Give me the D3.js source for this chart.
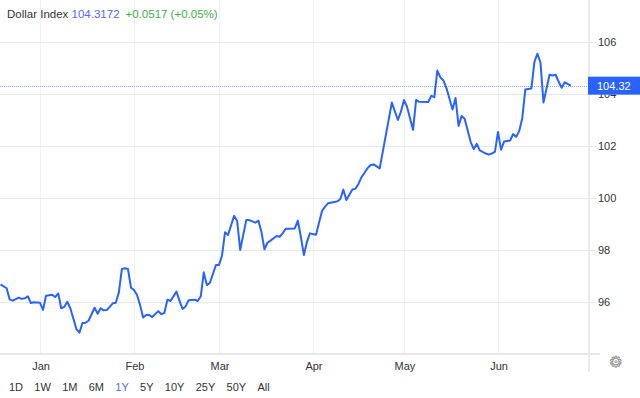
<!DOCTYPE html>
<html><head><meta charset="utf-8">
<script src="https://cdn.jsdelivr.net/npm/d3@7"></script>
<style>
html,body{margin:0;padding:0;background:#fff;}
svg{display:block;font-family:"Liberation Sans",Arial,sans-serif;}
</style></head><body>
<svg id="c" width="640" height="398"></svg>
<script>
// ---------- data ----------
const titleName = "Dollar Index";
const lastLabel = "104.3172";
const changeLabel = "+0.0517 (+0.05%)";
const priceTag = "104.32";
const yTicks = [96, 98, 100, 102, 104, 106];
const rangeButtons = ["1D","1W","1M","6M","1Y","5Y","10Y","25Y","50Y","All"];
const activeRange = "1Y";

const dates = [
"2021-12-19","2021-12-21","2021-12-22","2021-12-23","2021-12-25","2021-12-26","2021-12-27","2021-12-28","2021-12-29","2021-12-30",
"2022-01-01","2022-01-02","2022-01-03","2022-01-05","2022-01-06","2022-01-07","2022-01-08","2022-01-09","2022-01-10","2022-01-11",
"2022-01-13","2022-01-14","2022-01-15","2022-01-16","2022-01-17","2022-01-19","2022-01-20","2022-01-21","2022-01-22","2022-01-23",
"2022-01-25","2022-01-26","2022-01-27","2022-01-28","2022-01-29","2022-01-30","2022-01-31","2022-02-01","2022-02-02","2022-02-03",
"2022-02-04","2022-02-05","2022-02-06","2022-02-07","2022-02-09","2022-02-10","2022-02-11","2022-02-12","2022-02-13","2022-02-15",
"2022-02-16","2022-02-17","2022-02-18","2022-02-19","2022-02-21","2022-02-22","2022-02-23","2022-02-24","2022-02-25","2022-02-26",
"2022-02-28","2022-03-01","2022-03-02","2022-03-03","2022-03-04","2022-03-06","2022-03-07","2022-03-08","2022-03-10","2022-03-11",
"2022-03-13","2022-03-14","2022-03-15","2022-03-16","2022-03-17","2022-03-18","2022-03-20","2022-03-21","2022-03-22","2022-03-23",
"2022-03-24","2022-03-26","2022-03-27","2022-03-28","2022-03-29","2022-03-30","2022-03-31","2022-04-02","2022-04-03","2022-04-04",
"2022-04-05","2022-04-06","2022-04-08","2022-04-09","2022-04-10","2022-04-11","2022-04-12","2022-04-14","2022-04-15","2022-04-16",
"2022-04-17","2022-04-18","2022-04-19","2022-04-20","2022-04-21","2022-04-23","2022-04-27","2022-04-29","2022-04-30","2022-05-01",
"2022-05-02","2022-05-04","2022-05-05","2022-05-06","2022-05-09","2022-05-10","2022-05-11","2022-05-12","2022-05-13","2022-05-14",
"2022-05-15","2022-05-17","2022-05-18","2022-05-19","2022-05-20","2022-05-21","2022-05-23","2022-05-24","2022-05-25","2022-05-26",
"2022-05-28","2022-05-29","2022-05-30","2022-05-31","2022-06-01","2022-06-02","2022-06-03","2022-06-05","2022-06-06","2022-06-07",
"2022-06-08","2022-06-09","2022-06-10","2022-06-12","2022-06-13","2022-06-14","2022-06-15","2022-06-16","2022-06-18","2022-06-19",
"2022-06-20","2022-06-21","2022-06-22","2022-06-23","2022-06-25"
];
const values = [
96.68,96.53,96.10,96.05,96.17,96.12,96.14,96.22,95.96,95.99,
95.97,95.70,96.24,96.28,96.19,96.33,95.76,95.81,96.01,95.76,
94.96,94.82,95.19,95.20,95.28,95.78,95.55,95.76,95.68,95.69,
95.95,95.97,96.37,97.27,97.30,97.27,96.55,96.46,96.27,95.88,
95.40,95.50,95.50,95.42,95.65,95.53,95.58,96.09,96.04,96.40,
96.04,95.73,95.83,96.07,96.09,96.04,96.22,97.14,96.65,96.73,
97.42,97.42,97.78,98.68,98.58,99.32,99.12,98.00,99.15,99.15,
99.05,99.13,98.70,98.03,98.28,98.36,98.54,98.51,98.64,98.82,
98.82,98.83,99.13,98.51,97.81,98.31,98.64,98.59,99.05,99.51,
99.67,99.80,99.85,99.87,99.95,100.33,99.92,100.33,100.36,100.54,
100.80,100.97,101.15,101.27,101.29,101.14,103.67,103.00,103.32,103.77,
103.51,102.62,103.77,103.70,103.69,103.93,103.88,104.90,104.64,104.52,
104.23,103.40,103.85,102.77,103.15,103.05,102.15,101.88,102.08,101.83,
101.71,101.67,101.71,101.78,102.54,101.86,102.17,102.21,102.46,102.35,
102.58,103.07,104.17,104.21,105.23,105.55,105.21,103.67,104.74,104.71,
104.74,104.47,104.24,104.45,104.32
];

// ---------- layout ----------
const W = 640, H = 398;
const plotRight = 588, plotBottom = 354;
const parse = d3.utcParse("%Y-%m-%d");
const data = dates.map((d, i) => ({date: parse(d), value: values[i]}));

const x = d3.scaleUtc()
  .domain([parse("2022-01-01"), parse("2022-06-01")])
  .range([40, 498]);
const y = d3.scaleLinear().domain([96, 106]).range([302, 42]);

const svg = d3.select("#c");

// vertical gridlines (months)
const months = d3.utcMonths(x.invert(0), x.invert(plotRight));
svg.append("g").selectAll("line").data(months).join("line")
  .attr("x1", d => Math.round(x(d)) + 0.5).attr("x2", d => Math.round(x(d)) + 0.5)
  .attr("y1", 0).attr("y2", plotBottom)
  .attr("stroke", "#eef1f6").attr("stroke-width", 1);

// horizontal gridlines
svg.append("g").selectAll("line").data(yTicks).join("line")
  .attr("x1", 0).attr("x2", plotRight + 8)
  .attr("y1", d => Math.round(y(d)) + 0.5).attr("y2", d => Math.round(y(d)) + 0.5)
  .attr("stroke", "#e9e9e9").attr("stroke-width", 1);

// bottom axis line
svg.append("line")
  .attr("x1", 0).attr("x2", plotRight + 12)
  .attr("y1", plotBottom).attr("y2", plotBottom)
  .attr("stroke", "#e8e8e8").attr("stroke-width", 2);

// right axis line
svg.append("line")
  .attr("x1", plotRight + 1).attr("x2", plotRight + 1)
  .attr("y1", 0).attr("y2", 372)
  .attr("stroke", "#ececec").attr("stroke-width", 2);

// clip
svg.append("clipPath").attr("id", "clip")
  .append("rect").attr("x", 0).attr("y", 0).attr("width", plotRight).attr("height", plotBottom);

const last = data[data.length - 1];

// price line (dotted)
svg.append("line")
  .attr("x1", 0).attr("x2", plotRight)
  .attr("y1", Math.round(y(last.value)) + 0.5).attr("y2", Math.round(y(last.value)) + 0.5)
  .attr("stroke", "#93a8ff").attr("stroke-width", 1).attr("stroke-dasharray", "1,1");

// series line
const line = d3.line().x(d => x(d.date)).y(d => y(d.value));
svg.append("path").datum(data)
  .attr("clip-path", "url(#clip)")
  .attr("d", line)
  .attr("fill", "none")
  .attr("stroke", "#2962ff")
  .attr("stroke-width", 2)
  .attr("stroke-linejoin", "round");

// y tick labels (104 is partly hidden behind the price tag, as in the reference)
svg.append("g").selectAll("text").data(yTicks).join("text")
  .attr("x", 598).attr("y", d => y(d))
  .attr("dy", "0.35em")
  .attr("font-size", 11).attr("fill", "#333")
  .text(d => d);

// price tag
const py = y(last.value);
svg.append("rect").attr("x", plotRight).attr("y", py - 9).attr("width", W - plotRight).attr("height", 18)
  .attr("fill", "#2962ff");
svg.append("text").attr("x", 597).attr("y", py).attr("dy", "0.36em")
  .attr("font-size", 11).attr("fill", "#fff").text(priceTag);

// month labels
svg.append("g").selectAll("text").data(months).join("text")
  .attr("x", d => x(d) + 1).attr("y", 370)
  .attr("text-anchor", "middle")
  .attr("font-size", 11).attr("fill", "#333")
  .text(d => d3.utcFormat("%b")(d));

// gear icon
svg.append("text").attr("x", 616).attr("y", 367).attr("text-anchor", "middle")
  .attr("font-family", "DejaVu Sans").attr("font-size", 15)
  .attr("fill", "none").attr("stroke", "#8c8c8c").attr("stroke-width", 0.8)
  .text("\u2699");

// title
const t = svg.append("text").attr("x", 7).attr("y", 18).attr("font-size", 11.5);
t.append("tspan").attr("fill", "#333").text(titleName + " ");
t.append("tspan").attr("fill", "#5468ff").text(lastLabel);
t.append("tspan").attr("fill", "#3fae49").attr("dx", 6).text(changeLabel);

// range buttons
let bx = 9;
const bg = svg.append("g");
rangeButtons.forEach(b => {
  const tx = bg.append("text").attr("x", bx).attr("y", 391)
    .attr("font-size", 11).attr("fill", b === activeRange ? "#5468ff" : "#333").text(b);
  bx += tx.node().getComputedTextLength() + 11.3;
});
</script>
</body></html>
